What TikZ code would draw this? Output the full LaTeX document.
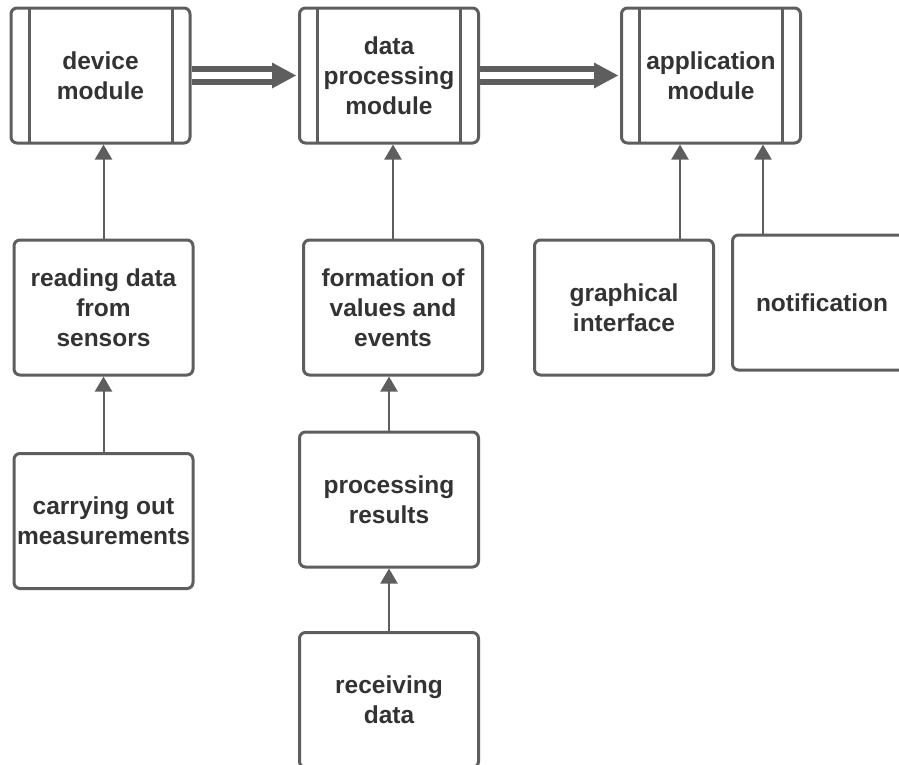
\documentclass[tikz,border=0pt]{standalone}
\usepackage{fontspec}
\setmainfont{Liberation Sans}
\usetikzlibrary{arrows.meta}
\definecolor{edge}{HTML}{5E5E5E}
\definecolor{ink}{HTML}{333333}
\tikzset{
  box/.style={draw=edge, line width=3pt, rounded corners=6pt, fill=white,
    minimum width=179pt, minimum height=135pt, inner sep=1pt,
    align=center, text=ink, font=\fontsize{24.5}{30}\selectfont\bfseries},
  module/.style={box, path picture={
    \draw[edge, line width=3pt]
      ([xshift=18pt]path picture bounding box.north west) --
      ([xshift=18pt]path picture bounding box.south west)
      ([xshift=-18pt]path picture bounding box.north east) --
      ([xshift=-18pt]path picture bounding box.south east);}},
  arr/.style={draw=edge, line width=2pt, -{Triangle[width=17pt,length=15pt]}},
  dbl/.style={draw=edge, line width=6pt, double=white, double distance=7pt},
  head/.style={fill=edge}
}
\begin{document}
\begin{tikzpicture}[x=1pt,y=-1pt]
\clip (0,0) rectangle (899,764);
\fill[white] (0,0) rectangle (899,764);

% top row: the three modules
\node[module] (dev) at (100.5,75.5) {device\\module};
\node[module] (dp)  at (389,75.5)   {data\\processing\\module};
\node[module] (app) at (711,75.5)   {application\\module};

% contributing steps
\node[box] (read)  at (103.5,307.5) {reading data\\from\\sensors};
\node[box] (meas)  at (103.5,521)   {carrying out\\measurements};
\node[box] (form)  at (393,307.5)   {formation of\\values and\\events};
\node[box] (proc)  at (389,499.5)   {processing\\results};
\node[box] (recv)  at (389,700)     {receiving\\data};
\node[box] (gui)   at (624,307.5)   {graphical\\interface};
\node[box] (notif) at (822,302.5)   {notification};

% double arrows between modules
\draw[dbl] (dev.east) -- ([xshift=-24pt]dp.west);
\fill[head] ([xshift=-2pt]dp.west) -- ++(-24,-13) -- ++(0,26) -- cycle;
\draw[dbl] (dp.east) -- ([xshift=-24pt]app.west);
\fill[head] ([xshift=-2pt]app.west) -- ++(-24,-13) -- ++(0,26) -- cycle;

% single arrows
\draw[arr] (read.north) -- (read.north |- dev.south);
\draw[arr] (meas.north) -- (read.south);
\draw[arr] (form.north) -- (form.north |- dp.south);
\draw[arr] (proc.north) -- (proc.north |- form.south);
\draw[arr] (recv.north) -- (proc.south);
\path (gui.north) ++(56,0) coordinate (g1);
\draw[arr] (g1) -- (g1 |- app.south);
\path (notif.north west) ++(32,0) coordinate (n1);
\draw[arr] (n1) -- (n1 |- app.south);
\end{tikzpicture}
\end{document}
